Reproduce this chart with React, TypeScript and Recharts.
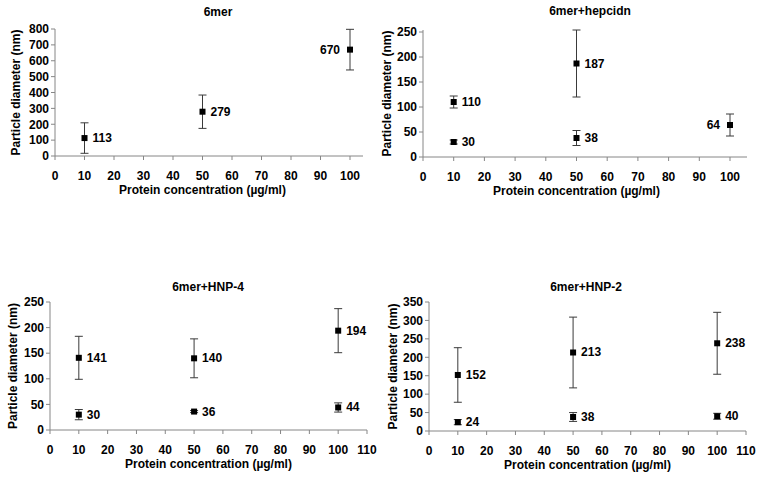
import React from 'react';
import {
  ScatterChart,
  Scatter,
  XAxis,
  YAxis,
  ErrorBar,
  LabelList,
} from 'recharts';

// Panel data: x = protein concentration (µg/ml), y = particle diameter (nm), err = SD
const mer6X = [10, 50, 100];
const mer6Y = [113, 279, 670];
const mer6Err = [96, 105, 128];

const hepX = [10, 10, 50, 50, 100];
const hepY = [110, 30, 187, 38, 64];
const hepErr = [12, 4, 67, 15, 22];

const hnp4X = [10, 50, 100, 10, 50, 100];
const hnp4Y = [141, 140, 194, 30, 36, 44];
const hnp4Err = [42, 38, 43, 10, 2, 9];

const hnp2X = [10, 50, 100, 10, 50, 100];
const hnp2Y = [152, 213, 238, 24, 38, 40];
const hnp2Err = [74, 96, 84, 7, 12, 8];

const ticks100 = [0, 10, 20, 30, 40, 50, 60, 70, 80, 90, 100];
const ticks110 = [0, 10, 20, 30, 40, 50, 60, 70, 80, 90, 100, 110];
const ticks800 = [0, 100, 200, 300, 400, 500, 600, 700, 800];
const ticks250 = [0, 50, 100, 150, 200, 250];
const ticks350 = [0, 50, 100, 150, 200, 250, 300, 350];

const FONT = '"Liberation Sans", Arial, sans-serif';
const AXIS = '#868686';

const toRows = (xs: number[], ys: number[], errs: number[]) =>
  xs.map((x, i) => ({ x, y: ys[i], err: errs[i] }));

const SquareDot = (props: any) => {
  const { cx, cy } = props;
  if (cx == null || cy == null) return null;
  return <rect x={cx - 3} y={cy - 3} width={6} height={6} fill="#000" />;
};

interface PanelProps {
  title: string;
  rows: { x: number; y: number; err: number }[];
  leftLabels: number[];
  xMax: number;
  xTicks: number[];
  yMax: number;
  yTicks: number[];
  box: { left: number; top: number; width: number; height: number };
  margin: { top: number; right: number; bottom: number; left: number };
  padRight: number;
  yLabelOffset: number;
  titlePos: { x: number; y: number };
}

const Panel: React.FC<PanelProps> = ({
  title,
  rows,
  leftLabels,
  xMax,
  xTicks,
  yMax,
  yTicks,
  box,
  margin,
  padRight,
  yLabelOffset,
  titlePos,
}) => {
  const renderLabel = (p: any) => {
    const { x, y, width, height, value, index } = p;
    const cx = x + width / 2;
    const cy = y + height / 2;
    const left = leftLabels.includes(index);
    return (
      <text
        x={left ? cx - 10 : cx + 8}
        y={cy}
        dy={4}
        textAnchor={left ? 'end' : 'start'}
        fontSize={12}
        fontWeight="bold"
        fontFamily={FONT}
        fill="#000"
      >
        {value}
      </text>
    );
  };

  return (
    <div style={{ position: 'absolute', left: box.left, top: box.top }}>
      <div
        style={{
          position: 'absolute',
          left: titlePos.x - 100,
          top: titlePos.y - 8,
          width: 200,
          textAlign: 'center',
          fontFamily: FONT,
          fontWeight: 'bold',
          fontSize: 12,
          lineHeight: '16px',
        }}
      >
        {title}
      </div>
      <ScatterChart width={box.width} height={box.height} margin={margin}>
        <XAxis
          type="number"
          dataKey="x"
          domain={[0, xMax]}
          ticks={xTicks}
          interval={0}
          height={40}
          padding={{ left: 0, right: padRight }}
          stroke={AXIS}
          tickSize={4}
          tickMargin={11}
          tick={{ fill: '#000', fontSize: 12, fontWeight: 'bold', fontFamily: FONT }}
          label={{
            value: 'Protein concentration (µg/ml)',
            position: 'insideBottom',
            offset: 2,
            dx: -padRight / 2,
            style: { fill: '#000', fontSize: 12, fontWeight: 'bold', fontFamily: FONT },
          }}
        />
        <YAxis
          type="number"
          dataKey="y"
          domain={[0, yMax]}
          ticks={yTicks}
          interval={0}
          width={40}
          stroke={AXIS}
          tickSize={4}
          tickMargin={2}
          tick={{ fill: '#000', fontSize: 12, fontWeight: 'bold', fontFamily: FONT }}
          label={{
            value: 'Particle diameter (nm)',
            angle: -90,
            position: 'insideLeft',
            offset: yLabelOffset,
            style: {
              textAnchor: 'middle',
              fill: '#000',
              fontSize: 12,
              fontWeight: 'bold',
              fontFamily: FONT,
            },
          }}
        />
        <Scatter data={rows} shape={<SquareDot />} isAnimationActive={false}>
          <ErrorBar dataKey="err" direction="y" width={4} stroke="#3a3a3a" strokeWidth={1} />
          <LabelList dataKey="y" content={renderLabel} />
        </Scatter>
      </ScatterChart>
    </div>
  );
};

export default function App() {
  return (
    <div
      style={{
        position: 'absolute',
        left: 0,
        top: 0,
        width: 760,
        height: 483,
        background: '#fff',
        overflow: 'hidden',
      }}
    >
      <Panel
        title="6mer"
        rows={toRows(mer6X, mer6Y, mer6Err)}
        leftLabels={[2]}
        xMax={100}
        xTicks={ticks100}
        yMax={800}
        yTicks={ticks800}
        box={{ left: 0, top: 0, width: 380, height: 200 }}
        margin={{ top: 29, right: 17, bottom: 4, left: 15 }}
        padRight={13}
        yLabelOffset={1}
        titlePos={{ x: 218, y: 12 }}
      />
      <Panel
        title="6mer+hepcidn"
        rows={toRows(hepX, hepY, hepErr)}
        leftLabels={[4]}
        xMax={100}
        xTicks={ticks100}
        yMax={250}
        yTicks={ticks250}
        box={{ left: 380, top: 0, width: 380, height: 200 }}
        margin={{ top: 30, right: 13, bottom: 3, left: 3 }}
        padRight={17}
        yLabelOffset={4}
        titlePos={{ x: 210, y: 11 }}
      />
      <Panel
        title="6mer+HNP-4"
        rows={toRows(hnp4X, hnp4Y, hnp4Err)}
        leftLabels={[]}
        xMax={110}
        xTicks={ticks110}
        yMax={250}
        yTicks={ticks250}
        box={{ left: 0, top: 230, width: 380, height: 253 }}
        margin={{ top: 72, right: 13, bottom: 13, left: 10 }}
        padRight={0}
        yLabelOffset={3}
        titlePos={{ x: 208, y: 57 }}
      />
      <Panel
        title="6mer+HNP-2"
        rows={toRows(hnp2X, hnp2Y, hnp2Err)}
        leftLabels={[]}
        xMax={110}
        xTicks={ticks110}
        yMax={350}
        yTicks={ticks350}
        box={{ left: 380, top: 230, width: 380, height: 253 }}
        margin={{ top: 72, right: 14, bottom: 12, left: 9 }}
        padRight={0}
        yLabelOffset={4}
        titlePos={{ x: 206, y: 57 }}
      />
    </div>
  );
}
